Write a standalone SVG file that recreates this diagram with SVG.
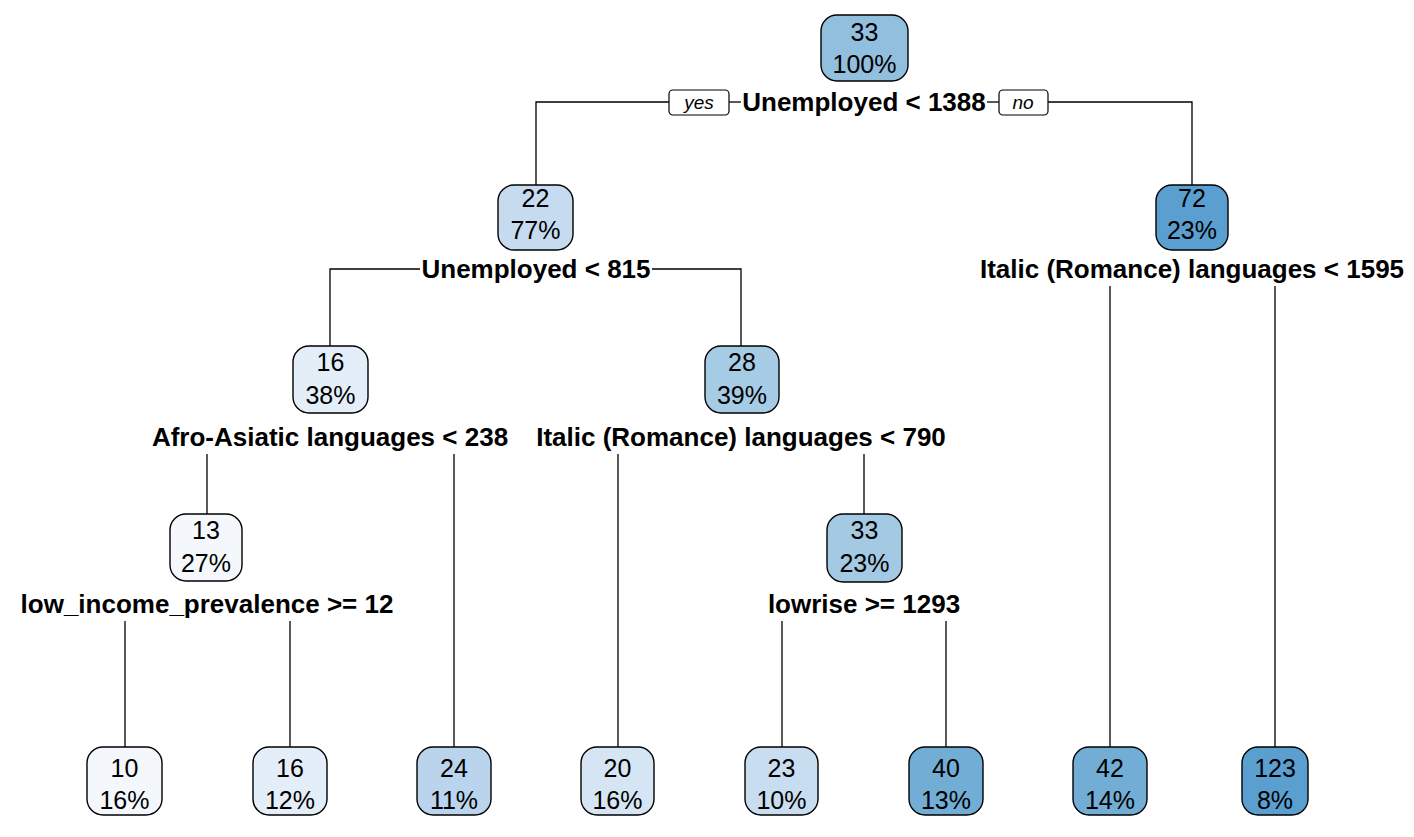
<svg xmlns="http://www.w3.org/2000/svg" width="1414" height="837" viewBox="0 0 1414 837">
<style>
.node rect{stroke:#000;stroke-width:1.4}
.nt{font-family:"Liberation Sans",Arial,sans-serif;font-size:25px;text-anchor:middle;fill:#000}
.split{font-family:"Liberation Sans",Arial,sans-serif;font-size:26px;font-weight:bold;text-anchor:middle;fill:#000}
.yn{font-family:"Liberation Sans",Arial,sans-serif;font-size:19px;font-style:italic;text-anchor:middle;fill:#000}
.conn line,.conn polyline{stroke:#000;stroke-width:1.3;fill:none}
.ynbox{fill:#fff;stroke:#000;stroke-width:1.2}
</style>
<rect width="1414" height="837" fill="#fff"/>
<g id="connectors" class="conn">
<polyline points="536,185 536,102 669,102"/>
<line x1="729" y1="102" x2="741" y2="102"/>
<line x1="987" y1="102" x2="999" y2="102"/>
<polyline points="1048,102 1192,102 1192,185"/>
<polyline points="330,346 330,269 420,269"/>
<polyline points="652,269 741,269 741,346"/>
<line x1="1110" y1="286" x2="1110" y2="747"/>
<line x1="1275" y1="286" x2="1275" y2="747"/>
<line x1="207" y1="454" x2="207" y2="514"/>
<line x1="454" y1="454" x2="454" y2="747"/>
<line x1="618" y1="454" x2="618" y2="747"/>
<line x1="864" y1="454" x2="864" y2="514"/>
<line x1="125" y1="621" x2="125" y2="747"/>
<line x1="290" y1="621" x2="290" y2="747"/>
<line x1="782" y1="621" x2="782" y2="747"/>
<line x1="946" y1="621" x2="946" y2="747"/>
<rect class="ynbox" x="669" y="90" width="60" height="25" rx="4"/>
<text class="yn" x="699" y="109">yes</text>
<rect class="ynbox" x="999" y="90" width="49" height="25" rx="4"/>
<text class="yn" x="1023" y="109">no</text>
</g>
<g id="n1" class="node"><rect x="821" y="15" width="87" height="66" rx="16" fill="#91bfdd"/><text class="nt" x="864.5" y="41">33</text><text class="nt" x="864.5" y="73">100%</text></g>
<g id="n2" class="node"><rect x="498" y="185" width="75" height="65" rx="16" fill="#c6dbef"/><text class="nt" x="535.5" y="207">22</text><text class="nt" x="535.5" y="239">77%</text></g>
<g id="n3" class="node"><rect x="1156" y="185" width="72" height="65" rx="16" fill="#5a9fcf"/><text class="nt" x="1192" y="207">72</text><text class="nt" x="1192" y="239">23%</text></g>
<g id="n4" class="node"><rect x="293" y="346" width="75" height="67" rx="16" fill="#e4eef9"/><text class="nt" x="330.5" y="371">16</text><text class="nt" x="330.5" y="404">38%</text></g>
<g id="n5" class="node"><rect x="705" y="346" width="74" height="67" rx="16" fill="#a6cbe4"/><text class="nt" x="742" y="371">28</text><text class="nt" x="742" y="404">39%</text></g>
<g id="n6" class="node"><rect x="170" y="514" width="72" height="67" rx="16" fill="#f4f8fd"/><text class="nt" x="206" y="539">13</text><text class="nt" x="206" y="572">27%</text></g>
<g id="n7" class="node"><rect x="827" y="514" width="75" height="68" rx="16" fill="#a4cae3"/><text class="nt" x="864.5" y="539">33</text><text class="nt" x="864.5" y="572">23%</text></g>
<g id="l1" class="node"><rect x="87" y="747" width="75" height="68" rx="16" fill="#f4f8fd"/><text class="nt" x="124.5" y="777">10</text><text class="nt" x="124.5" y="809">16%</text></g>
<g id="l2" class="node"><rect x="253" y="747" width="74" height="68" rx="16" fill="#e4eef9"/><text class="nt" x="290" y="777">16</text><text class="nt" x="290" y="809">12%</text></g>
<g id="l3" class="node"><rect x="417" y="747" width="74" height="68" rx="16" fill="#b9d4ec"/><text class="nt" x="454" y="777">24</text><text class="nt" x="454" y="809">11%</text></g>
<g id="l4" class="node"><rect x="581" y="747" width="73" height="68" rx="16" fill="#d6e5f4"/><text class="nt" x="617.5" y="777">20</text><text class="nt" x="617.5" y="809">16%</text></g>
<g id="l5" class="node"><rect x="745" y="747" width="73" height="68" rx="16" fill="#c9ddf0"/><text class="nt" x="781.5" y="777">23</text><text class="nt" x="781.5" y="809">10%</text></g>
<g id="l6" class="node"><rect x="909" y="747" width="74" height="68" rx="16" fill="#72add5"/><text class="nt" x="946" y="777">40</text><text class="nt" x="946" y="809">13%</text></g>
<g id="l7" class="node"><rect x="1073" y="747" width="74" height="68" rx="16" fill="#72add5"/><text class="nt" x="1110" y="777">42</text><text class="nt" x="1110" y="809">14%</text></g>
<g id="l8" class="node"><rect x="1242" y="747" width="66" height="68" rx="16" fill="#5a9fcf"/><text class="nt" x="1275" y="777">123</text><text class="nt" x="1275" y="809">8%</text></g>
<g id="labels">
<text class="split" x="864" y="111">Unemployed &lt; 1388</text>
<text class="split" x="536" y="278">Unemployed &lt; 815</text>
<text class="split" x="1192" y="278">Italic (Romance) languages &lt; 1595</text>
<text class="split" x="330" y="446">Afro-Asiatic languages &lt; 238</text>
<text class="split" x="741" y="446">Italic (Romance) languages &lt; 790</text>
<text class="split" x="207" y="613">low_income_prevalence &gt;= 12</text>
<text class="split" x="864" y="613">lowrise &gt;= 1293</text>
</g>
</svg>
